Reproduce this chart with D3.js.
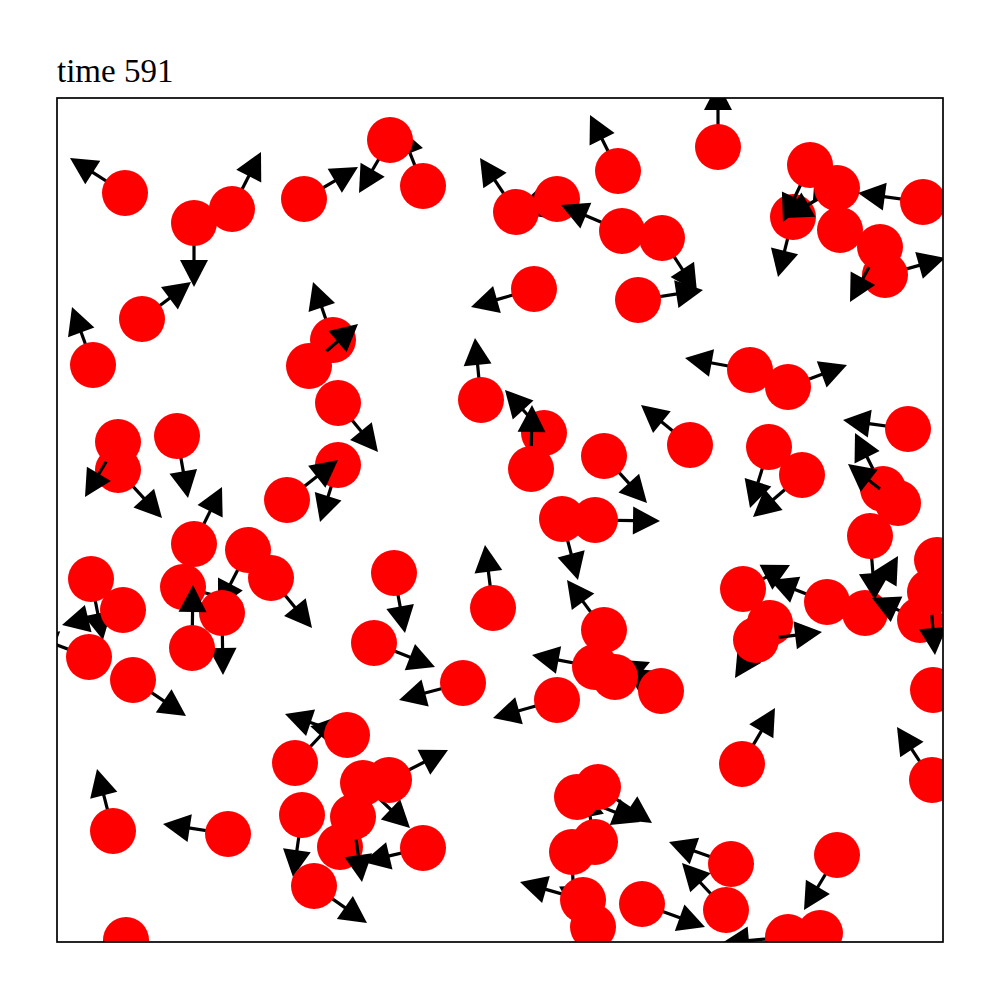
<!DOCTYPE html>
<html lang="en">
    <head>
        <meta charset="utf-8">
        <title>particles - time 591</title>
        <script src="https://d3js.org/d3.v7.min.js"></script>
        <style>
            body {
                margin: 0;
                background: white;
            }
            .title {
                font-family: "Liberation Serif", "Times New Roman", serif;
                font-size: 33px;
            }
        </style>
    </head>
    <body>
        <script type="text/javascript">

            // particle state at this frame (box units), drawn in this order
            var frameTime = 591;
            var xs  = [0.68, 1.37, 1.75, 2.47, 0.85, 0.36, 2.76, 2.52, 3.66, 3.33, 5.00, 4.59, 5.65, 5.61, 4.77, 5.81, 6.05, 6.61,
                       7.83, 7.36, 7.53, 7.80, 8.28, 8.23, 8.66, 6.93, 7.31, 6.33, 7.12, 7.45, 8.51, 8.26, 8.41,
                       4.24, 4.87, 4.74, 5.47, 5.05, 5.38, 3.37, 4.36, 3.17, 4.06, 5.47, 6.04, 5.58, 5.38, 5.00,
                       0.61, 0.61, 1.20, 2.81, 2.81, 2.30, 1.37, 1.91, 2.14, 1.26, 1.65, 1.35, 0.34, 0.66, 0.32, 0.76,
                       0.56, 1.71, 0.69, 2.38, 2.90, 2.45, 2.57, 2.83, 3.06, 2.96, 3.32, 3.66,
                       5.38, 5.20, 5.41, 5.15, 5.26, 5.36, 5.85, 6.85, 8.75, 6.74, 6.69, 7.80, 7.31, 7.63,
                       6.86, 7.70, 8.08, 8.63, 7.13, 6.99, 8.80, 8.73, 8.76, 8.13];
            var ys  = [7.49, 7.19, 7.33, 7.43, 6.23, 5.77, 6.02, 5.76, 7.56, 8.02, 7.43, 7.30, 7.11, 7.71, 6.53, 6.42, 7.04, 7.95,
                       7.12, 7.25, 7.77, 7.54, 6.67, 6.95, 7.40, 5.72, 5.55, 4.97, 4.95, 4.67, 5.13, 4.53, 4.39,
                       5.42, 5.09, 4.73, 4.86, 4.23, 4.22, 3.69, 3.34, 2.99, 2.59, 3.12, 2.51, 2.65, 2.75, 2.42,
                       4.72, 5.00, 5.06, 5.39, 4.77, 4.42, 3.98, 3.92, 3.64, 3.55, 3.29, 2.94, 3.63, 3.32, 2.85, 2.62,
                       1.11, 1.08, 0.02, 1.79, 2.07, 1.27, 0.56, 0.95, 1.59, 1.25, 1.62, 0.94,
                       1.00, 1.45, 1.55, 0.90, 0.42, 0.15, 0.38, 1.78, 1.62, 0.78, 0.32, 0.87, 0.05, 0.09,
                       3.53, 3.40, 3.29, 3.22, 3.19, 3.02, 3.82, 3.50, 2.52, 4.06];
            var vxs = [-0.55, 0.00, 0.29, 0.54, 0.49, -0.21, -0.20, 0.49, -0.23, -0.31, -0.43, -0.36, -0.61, -0.28, -0.63, 0.65, 0.35, 0.00,
                       -0.25, -0.15, -0.27, -0.52, 0.60, -0.30, -0.65, -0.65, 0.59, -0.49, -0.19, -0.49, -0.65, -0.28, -0.50,
                       -0.06, -0.39, 0.01, 0.43, 0.16, 0.65, 0.11, -0.08, 0.61, -0.64, -0.37, -0.36, 0.35, -0.63, -0.64,
                       0.44, -0.33, 0.11, 0.40, -0.18, 0.51, 0.28, -0.30, 0.41, 0.60, 0.01, 0.01, 0.12, -0.61, -0.59, 0.53,
                       -0.16, -0.65, 0.00, 0.44, -0.62, -0.09, 0.53, 0.32, 0.47, 0.09, 0.59, -0.60,
                       -0.10, 0.63, 0.54, 0.02, -0.63, 0.07, 0.63, 0.33, -0.35, -0.62, -0.44, -0.33, -0.66, 0.60,
                       0.47, -0.57, 0.33, -0.48, -0.35, 0.66, 0.63, 0.05, 0.62, 0.05];
            var vys = [0.35, -0.64, 0.57, 0.32, 0.37, 0.58, 0.58, 0.42, 0.58, -0.53, -0.13, 0.54, 0.26, 0.56, -0.18, 0.10, -0.54, 0.64,
                       0.58, -0.60, -0.57, -0.30, 0.17, -0.55, 0.09, 0.12, 0.22, 0.40, -0.61, -0.42, 0.09, 0.56, 0.39,
                       0.62, 0.43, 0.64, -0.47, -0.61, -0.01, -0.60, 0.63, -0.24, -0.17, 0.50, 0.23, 0.15, 0.12, -0.18,
                       -0.48, -0.55, -0.62, -0.49, -0.57, 0.40, 0.57, -0.58, -0.50, -0.16, -0.62, 0.63, -0.61, -0.15, 0.22, -0.36,
                       0.62, 0.10, -0.64, 0.47, 0.21, -0.62, -0.37, 0.41, -0.45, -0.65, 0.30, -0.14,
                       0.52, -0.25, -0.36, -0.61, 0.18, -0.63, -0.23, 0.56, 0.53, 0.22, 0.47, -0.55, -0.06, -0.47,
                       0.24, 0.22, 0.57, 0.22, -0.55, 0.08, 0.00, -0.63, -0.10, -0.64];
            var boxWidth = 8.86, boxHeight = 8.44;

            var outerWidth = 1000;
            var outerHeight = 1000;
            var margin = { left: 57, top: 98, right: 57, bottom: 58 };
            var innerWidth = outerWidth - margin.left - margin.right;
            var innerHeight = outerHeight - margin.top - margin.bottom;

            var radius = 23;
            var headLength = 27, headWidth = 28, shaftWidth = 3.2;

            var svg = d3.select("body")
                        .append("svg")
                        .attr("width", outerWidth)
                        .attr("height", outerHeight);

            svg.append("rect")
                .attr("width", outerWidth)
                .attr("height", outerHeight)
                .attr("fill", "white");

            svg.append("text")
                .attr("class", "title")
                .attr("x", margin.left)
                .attr("y", margin.top - 16)
                .text("time " + frameTime);

            svg.append("clipPath")
                .attr("id", "box")
                .append("rect")
                .attr("width", innerWidth)
                .attr("height", innerHeight);

            var g = svg.append("g")
                .attr("transform", `translate(${margin.left},${margin.top})`);

            var xScale = d3.scaleLinear()
                            .domain([0, boxWidth])
                            .range([0, innerWidth]);

            var yScale = d3.scaleLinear()
                            .domain([0, boxHeight])
                            .range([innerHeight, 0]);

            var data = xs.map(function(x, i) {
                return { x: x, y: ys[i], vx: vxs[i], vy: vys[i] };
            });

            var plot = g.append("g").attr("clip-path", "url(#box)");

            var particles = plot.selectAll("g.particle")
                .data(data)
                .enter()
                .append("g")
                .attr("class", "particle");

            // arrow first, then the particle on top of it
            particles.each(function(d) {
                var x0 = xScale(d.x), y0 = yScale(d.y);
                var x1 = xScale(d.x + d.vx), y1 = yScale(d.y + d.vy);
                var dx = x1 - x0, dy = y1 - y0;
                var len = Math.sqrt(dx * dx + dy * dy);
                var p = d3.select(this);
                if (len > 0.5) {
                    var ux = dx / len, uy = dy / len;
                    var hl = Math.min(headLength, len), hw = headWidth * hl / headLength / 2;
                    var bx = x1 - ux * hl, by = y1 - uy * hl;
                    p.append("line")
                        .attr("x1", x0).attr("y1", y0)
                        .attr("x2", bx + ux).attr("y2", by + uy)
                        .attr("stroke", "black")
                        .attr("stroke-width", shaftWidth);
                    p.append("path")
                        .attr("d", d3.line()([
                            [x1, y1],
                            [bx - uy * hw, by + ux * hw],
                            [bx + uy * hw, by - ux * hw]
                        ]) + "Z")
                        .attr("fill", "black");
                }
                p.append("circle")
                    .attr("cx", x0)
                    .attr("cy", y0)
                    .attr("r", radius)
                    .attr("fill", "#ff0000");
            });

            g.append("rect")
                .attr("width", innerWidth)
                .attr("height", innerHeight)
                .attr("fill", "none")
                .attr("stroke", "black")
                .attr("stroke-width", 1.7);

        </script>
    </body>
</html>
